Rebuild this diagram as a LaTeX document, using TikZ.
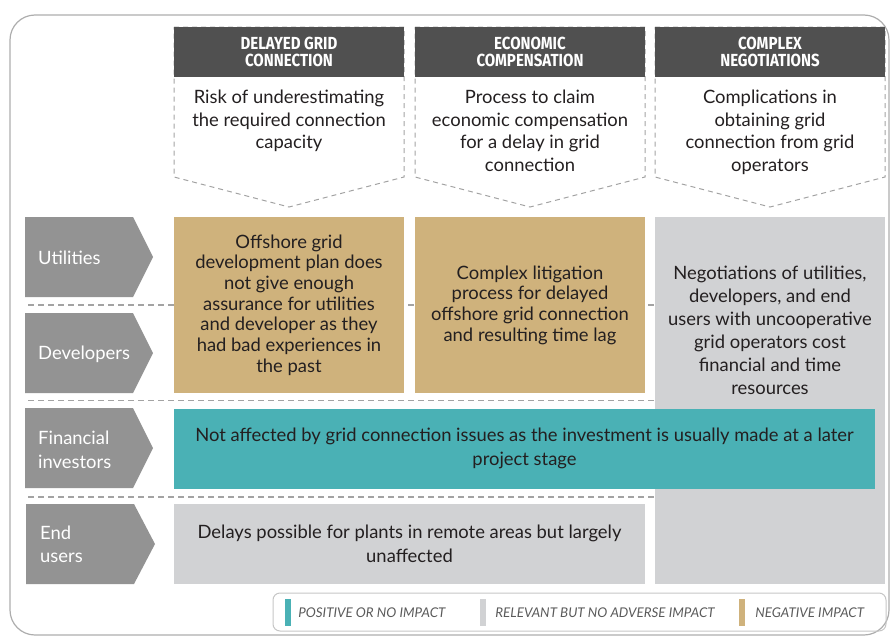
\documentclass[tikz,border=0pt]{standalone}
\usepackage{fontspec}
\setmainfont{Lato}
\newfontfamily\hdrfont[FakeStretch=0.86]{Fira Sans}
\usetikzlibrary{positioning}
\definecolor{hdrgray}{HTML}{505050}
\definecolor{rowgray}{HTML}{939393}
\definecolor{negtan}{HTML}{CFB27C}
\definecolor{relgray}{HTML}{D1D2D4}
\definecolor{posteal}{HTML}{4AB1B5}
\definecolor{sepgray}{HTML}{A3A3A3}
\definecolor{framegray}{HTML}{ADADAD}
\definecolor{txtdark}{HTML}{231F20}
\definecolor{legtxt}{HTML}{5A5A5A}

\begin{document}
\begin{tikzpicture}[x=1pt,y=-1pt]
    \tikzstyle{every node}=[inner sep=0,align=center,text=txtdark]
    \tikzstyle{hdr}=[fill=hdrgray,minimum width=230,minimum height=50,text=white,font=\hdrfont\bfseries\fontsize{17.5}{17.5}\selectfont]
    \tikzstyle{desc}=[anchor=north,font=\fontsize{18.4}{22.5}\selectfont]
    \tikzstyle{chevron}=[draw=sepgray,line width=1,dash pattern=on 5pt off 4pt]
    \tikzstyle{cell}=[minimum width=230,font=\fontsize{18.4}{20.7}\selectfont]
    \tikzstyle{wide}=[minimum height=80,font=\fontsize{18.4}{23.5}\selectfont]
    \tikzstyle{rowtag}=[anchor=west,align=left,text=white,font=\fontsize{18.4}{23.5}\selectfont]
    \tikzstyle{rowshape}=[fill=rowgray]
    \tikzstyle{sep}=[draw=sepgray,line width=1.2,dash pattern=on 6pt off 4pt]
    \tikzstyle{legbar}=[inner sep=0]
    \tikzstyle{legtext}=[anchor=west,text=legtxt,font=\itshape\fontsize{13.4}{15}\selectfont]
    {
        \useasboundingbox (0,0) rectangle (892,637);
        \draw[framegray,line width=1.2,rounded corners=25] (10,15) rectangle (889,635);

        \draw[chevron] (174,27) -- (404,27) -- (404,177) -- (289,207) -- (174,177) -- cycle;
        \draw[chevron] (415,27) -- (645,27) -- (645,177) -- (530,207) -- (415,177) -- cycle;
        \draw[chevron] (655,27) -- (885,27) -- (885,177) -- (770,207) -- (655,177) -- cycle;

        \node[hdr] (hdrdelay) at (289,52) {DELAYED GRID\\CONNECTION};
        \node[hdr] (hdrcomp) at (530,52) {ECONOMIC\\COMPENSATION};
        \node[hdr] (hdrnego) at (770,52) {COMPLEX\\NEGOTIATIONS};

        \node[desc] (descdelay) at (289,90) {Risk of underestimating\\the required connection\\capacity};
        \node[desc] (desccomp) at (530,90) {Process to claim\\economic compensation\\for a delay in grid\\connection};
        \node[desc] (descnego) at (770,90) {Complications in\\obtaining grid\\connection from grid\\operators};

        \draw[sep] (28,305) -- (655,305);
        \draw[sep] (28,400.5) -- (655,400.5);
        \draw[sep] (28,497) -- (655,497);

        \fill[rowshape] (25,217) -- (133,217) -- (153,257) -- (133,297) -- (25,297) -- cycle;
        \fill[rowshape] (25,313) -- (133,313) -- (153,353) -- (133,393) -- (25,393) -- cycle;
        \fill[rowshape] (25,408) -- (133,408) -- (153,448) -- (133,488) -- (25,488) -- cycle;
        \fill[rowshape] (26,504) -- (134,504) -- (155,544) -- (134,584) -- (26,584) -- cycle;

        \node[rowtag] (rowutil) at (38,258) {Utilities};
        \node[rowtag] (rowdev) at (38,354) {Developers};
        \node[rowtag] (rowfin) at (38,450) {Financial\\investors};
        \node[rowtag] (rowend) at (40,544.5) {End\\users};

        \node[cell,fill=negtan,minimum height=176] (celldelay) at (289,305) {Offshore grid\\development plan does\\not give enough\\assurance for utilities\\and developer as they\\had bad experiences in\\the past};
        \node[cell,fill=negtan,minimum height=176] (cellcomp) at (530,305) {Complex litigation\\process for delayed\\offshore grid connection\\and resulting time lag};
        \node[cell,fill=relgray,minimum height=367] (cellnego) at (770,400.5) {};
        \node[cell,font=\fontsize{18.4}{23}\selectfont] (textnego) at (770,330) {Negotiations of utilities,\\developers, and end\\users with uncooperative\\grid operators cost\\financial and time\\resources};

        \node[wide,fill=posteal,minimum width=701] (cellfin) at (524.5,448.5) {Not affected by grid connection issues as the investment is usually made at a later\\project stage};
        \node[wide,fill=relgray,minimum width=471] (cellend) at (409.5,544) {Delays possible for plants in remote areas but largely\\unaffected};

        \node[draw=framegray!70,line width=1,rounded corners=7,minimum width=613,minimum height=38] (legend) at (579.5,612) {};
        \node[legbar,fill=posteal,minimum width=6,minimum height=27] (barpos) at (288,612.5) {};
        \node[legbar,fill=relgray,minimum width=6,minimum height=27] (barrel) at (483,612.5) {};
        \node[legbar,fill=negtan,minimum width=6,minimum height=27] (barneg) at (742,612.5) {};
        \node[legtext,right=7 of barpos] {POSITIVE OR NO IMPACT};
        \node[legtext,right=9 of barrel] {RELEVANT BUT NO ADVERSE IMPACT};
        \node[legtext,right=10 of barneg] {NEGATIVE IMPACT};
    }
\end{tikzpicture}
\end{document}
